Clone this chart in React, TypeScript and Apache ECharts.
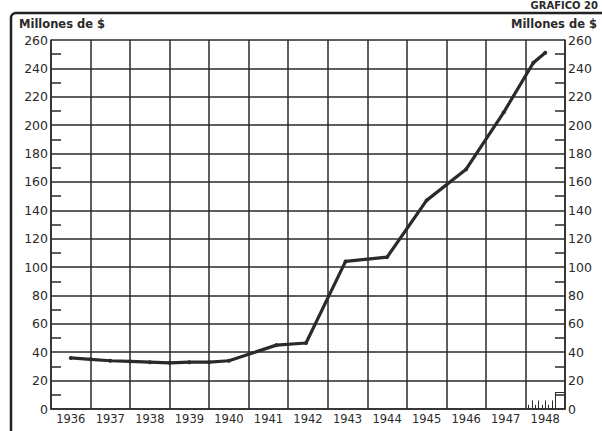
import React, { useEffect, useRef } from "react";
import * as echarts from "echarts";

const years = ["1936", "1937", "1938", "1939", "1940", "1941", "1942", "1943", "1944", "1945", "1946", "1947", "1948"];
// [fractional year, millions of $]
const points: [number, number][] = [
  [1936.5, 36], [1937.0, 35], [1937.5, 34], [1938.0, 33.5], [1938.5, 33],
  [1939.0, 32.5], [1939.5, 33], [1940.0, 33], [1940.5, 34], [1941.7, 45],
  [1942.45, 46.5], [1943.45, 104], [1944.5, 107], [1945.5, 147], [1946.5, 169],
  [1947.45, 209], [1948.2, 244], [1948.5, 251],
];
const monthTicks: [number, number][] = [
  [1948.08, 3], [1948.17, 6], [1948.25, 3], [1948.33, 6], [1948.42, 3],
  [1948.5, 6], [1948.58, 3], [1948.67, 6], [1948.75, 3],
];
const yMin = 0;
const yMax = 260;
const yStep = 20;
const title = "Millones de $";

export default function App() {
  const ref = useRef<HTMLDivElement>(null);
  useEffect(() => {
    const chart = echarts.init(ref.current!, null, { renderer: "svg" });
    const ink = "#2a2a2a";
    const font = "DejaVu Sans";
    const yAxisBase = {
      type: "value",
      min: yMin,
      max: yMax,
      interval: yStep,
      axisLine: { show: true, lineStyle: { color: ink, width: 1.5 } },
      axisTick: { show: false, inside: true },
      minorTick: { show: true, splitNumber: 2, length: 10, lineStyle: { color: ink, width: 1.5 } },
      axisLabel: { color: ink, fontFamily: font, fontSize: 12.5, margin: 3 },
    };
    chart.setOption({
      animation: false,
      backgroundColor: "#ffffff",
      grid: { left: 51, right: 37, top: 40, bottom: 22 },
      graphic: [
        { type: "rect", shape: { x: 11, y: 13, width: 600, height: 440, r: 5 }, style: { fill: "none", stroke: "#222", lineWidth: 2.5 } },
        { type: "text", left: 19, top: 18, style: { text: title, font: "bold 11.5px DejaVu Sans", fill: ink } },
        { type: "text", right: 5, top: 18, style: { text: title, font: "bold 11.5px DejaVu Sans", fill: ink } },
        { type: "text", right: 4, top: 0, style: { text: "GRAFICO 20", font: "bold 10px DejaVu Sans", fill: ink } },
      ],
      xAxis: [
        {
          type: "category",
          data: years,
          boundaryGap: true,
          axisLine: { show: true, lineStyle: { color: ink, width: 1.5 } },
          axisTick: { show: false },
          splitLine: { show: true, lineStyle: { color: ink, width: 1.5 } },
          axisLabel: { color: ink, fontFamily: font, fontSize: 11.5, margin: 4, interval: 0 },
        },
        { type: "value", min: 1936, max: 1949, show: false },
      ],
      yAxis: [
        { ...yAxisBase, position: "left", splitLine: { show: true, lineStyle: { color: ink, width: 1.5 } } },
        { ...yAxisBase, position: "right", splitLine: { show: false } },
      ],
      series: [
        {
          type: "line",
          xAxisIndex: 1,
          yAxisIndex: 0,
          data: points,
          symbol: "circle",
          symbolSize: 4,
          lineStyle: { color: ink, width: 3.2 },
          itemStyle: { color: ink },
        },
        {
          type: "line",
          xAxisIndex: 1,
          yAxisIndex: 0,
          data: [],
          markLine: {
            symbol: "none",
            silent: true,
            label: { show: false },
            lineStyle: { color: ink, width: 1, type: "solid" },
            data: [
              ...monthTicks.map(([x, h]) => [{ coord: [x, 0] }, { coord: [x, h] }]),
              [{ coord: [1948.75, 0] }, { coord: [1948.75, 12] }],
              [{ coord: [1948.75, 12] }, { coord: [1949, 12] }],
            ],
          },
        },
      ],
    });
    return () => chart.dispose();
  }, []);
  return <div ref={ref} style={{ position: "fixed", left: 0, top: 0, width: 602, height: 431 }} />;
}
